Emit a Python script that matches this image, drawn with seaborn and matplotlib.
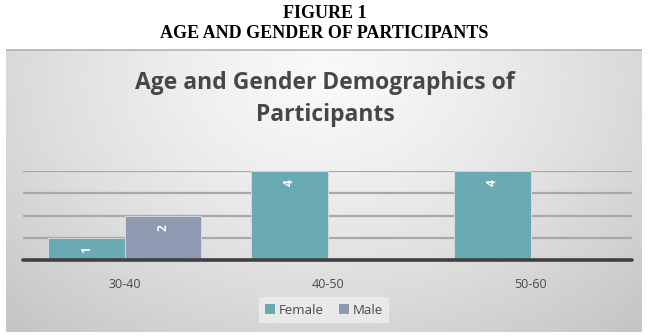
"""Age and gender demographics of participants — clustered bar chart."""

import matplotlib
import numpy as np
import pandas as pd
import seaborn as sns

matplotlib.use("Agg")
import matplotlib.pyplot as plt
from matplotlib.patches import Patch

AGE_GROUPS = ["30-40", "40-50", "50-60"]
GENDERS = ["Female", "Male"]
FEMALE_COUNTS = [1, 4, 4]
MALE_COUNTS = [2, 0, 0]

HEADER_LINES = ["FIGURE 1", "AGE AND GENDER OF PARTICIPANTS"]
CHART_TITLE = "Age and Gender Demographics of\nParticipants"

COLORS = {"Female": "#6AABB3", "Male": "#8D9AB1"}
TEXT_GRAY = "#4A4A4A"

W, H = 665, 336


def px_box(left, top, right, bottom):
    return [left / W, 1 - bottom / H, (right - left) / W, (bottom - top) / H]


def main() -> None:
    sns.set_theme(style="white")
    plt.rcParams["font.family"] = ["Open Sans", "DejaVu Sans"]

    df = pd.DataFrame(
        {
            "age": AGE_GROUPS * 2,
            "gender": ["Female"] * 3 + ["Male"] * 3,
            "count": FEMALE_COUNTS + MALE_COUNTS,
        }
    )

    fig = plt.figure(figsize=(W / 100, H / 100), dpi=100)
    fig.patch.set_facecolor("white")

    # gradient background of the chart box
    bg = fig.add_axes(px_box(6, 49, 642, 332), zorder=0)
    gx, gy = np.meshgrid(np.linspace(0, 1, 300), np.linspace(0, 1, 150))
    r = np.sqrt(((gx - 0.5) / 0.6) ** 2 + ((gy - 0.1) / 1.0) ** 2)
    shade = np.clip(0.975 - 0.16 * r ** 1.3, 0.77, 1.0)
    bg.imshow(shade, cmap="gray", vmin=0, vmax=1, aspect="auto",
              extent=(0, 1, 1, 0), interpolation="bilinear")
    bg.set_xlim(0, 1)
    bg.set_ylim(1, 0)
    bg.axis("off")
    bg.add_line(plt.Line2D([0, 1], [0.002, 0.002], color="#B5B5B5", lw=1.2))

    # header text above the chart
    fig.text(0.488, 1 - 14 / H, HEADER_LINES[0], ha="center", va="center",
             family="Liberation Serif", weight="bold", fontsize=13, color="black")
    fig.text(0.488, 1 - 34 / H, HEADER_LINES[1], ha="center", va="center",
             family="Liberation Serif", weight="bold", fontsize=13, color="black")

    fig.text(325 / W, 1 - 99 / H, CHART_TITLE, ha="center", va="center",
             fontsize=16.5, weight="bold", color="#474747", linespacing=1.4)

    ax = fig.add_axes(px_box(23, 171, 632, 260), zorder=2)
    ax.patch.set_alpha(0)
    sns.barplot(
        data=df, x="age", y="count", hue="gender",
        order=AGE_GROUPS, hue_order=GENDERS, palette=COLORS, saturation=1,
        width=0.75, edgecolor="#D8DEE6", linewidth=0.6,
        legend=False, ax=ax, zorder=3,
    )
    ax.set_ylim(0, 4)
    ax.set_xlim(-0.5, 2.5)
    ax.set_yticks([1, 2, 3, 4])
    ax.yaxis.grid(True, color="#A8A8A8", linewidth=1.6)
    ax.set_axisbelow(True)
    ax.tick_params(axis="y", left=False, labelleft=False)
    ax.tick_params(axis="x", length=0, pad=13, labelsize=9, labelcolor=TEXT_GRAY)
    ax.set_xlabel("")
    ax.set_ylabel("")
    for side in ax.spines:
        ax.spines[side].set_visible(False)
    ax.axhline(0, color="#404040", linewidth=2.6, zorder=5, clip_on=False)

    # data labels inside the bar ends, rotated
    for container in ax.containers:
        for bar in container:
            h = bar.get_height()
            if h <= 0:
                continue
            ax.annotate(
                f"{h:.0f}", (bar.get_x() + bar.get_width() / 2, h),
                xytext=(0, -8.5), textcoords="offset points",
                ha="center", va="center", rotation=90,
                fontsize=8.5, weight="bold", color="white", zorder=6,
            )

    handles = [Patch(facecolor=COLORS[g], edgecolor="none", label=g) for g in GENDERS]
    leg = fig.legend(
        handles=handles, loc="center", bbox_to_anchor=(324 / W, 1 - 310 / H),
        ncol=2, frameon=True, fontsize=9.5, handlelength=0.7, handleheight=0.7,
        handletextpad=0.3, columnspacing=1.2, borderpad=0.5,
        labelcolor=TEXT_GRAY, fancybox=False,
    )
    leg.get_frame().set_facecolor("#E9E9E9")
    leg.get_frame().set_edgecolor("none")
    leg.get_frame().set_alpha(1)

    fig.savefig("out.png", dpi=100)
    plt.close(fig)


if __name__ == "__main__":
    main()
